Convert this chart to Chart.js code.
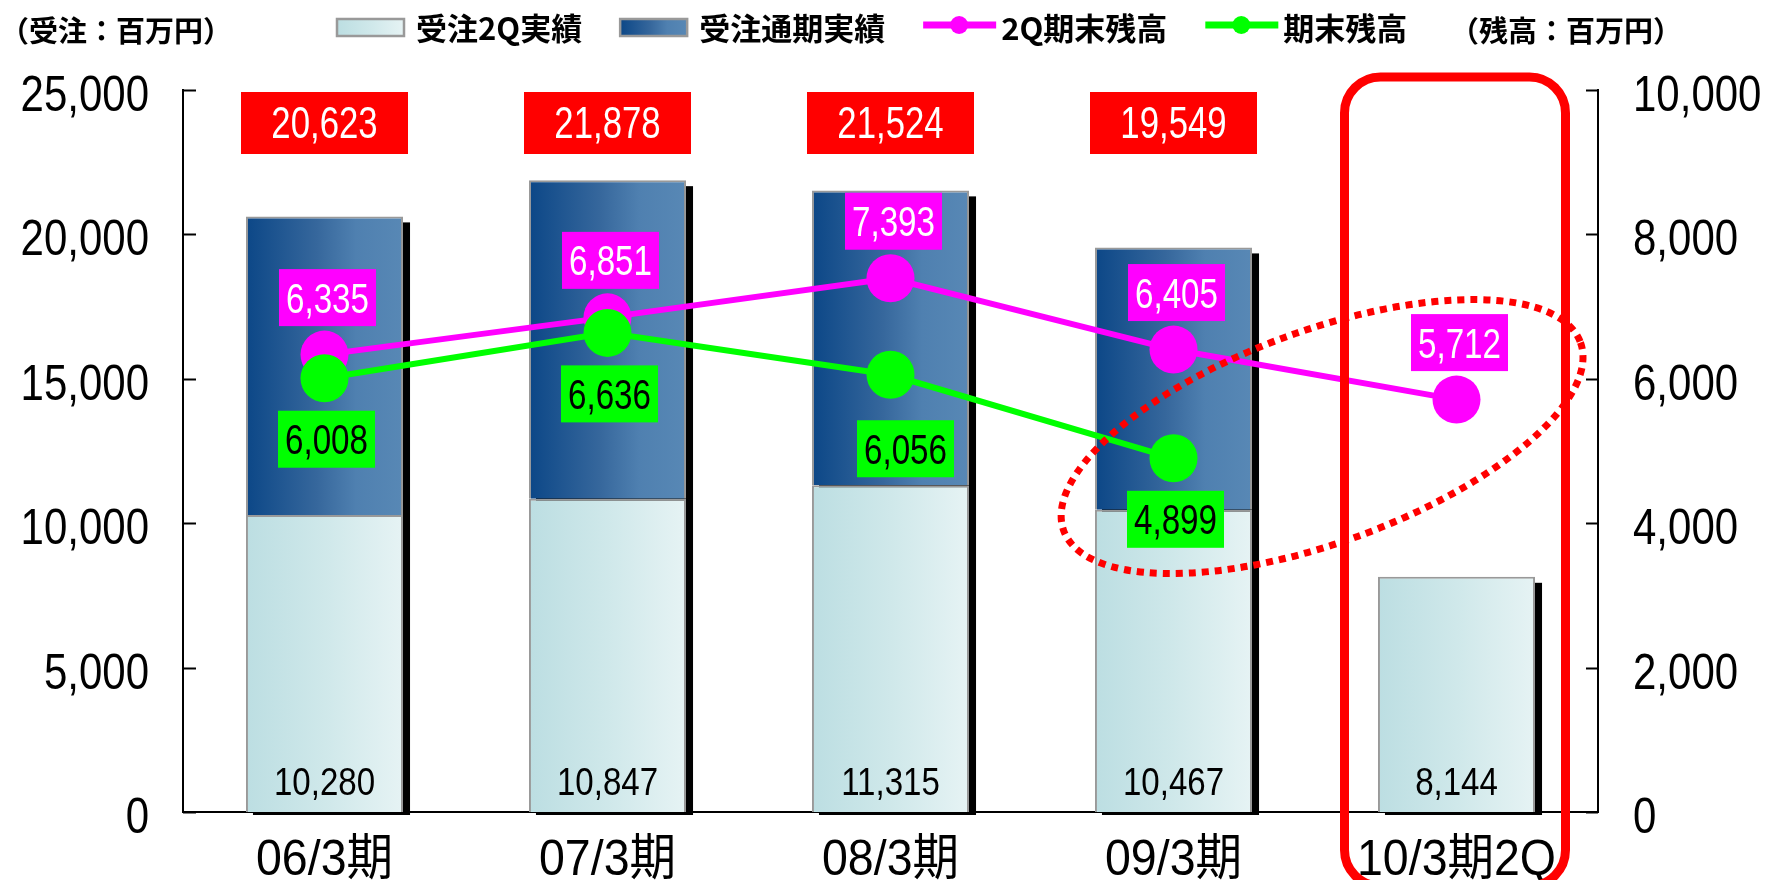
<!DOCTYPE html>
<html>
<head>
<meta charset="utf-8">
<script src="https://cdn.jsdelivr.net/npm/chart.js@4.4.1/dist/chart.umd.min.js"></script>
<style>
  html, body { margin: 0; padding: 0; background: #fff; overflow: hidden; }
  #wrap { width: 1767px; height: 880px; }
</style>
</head>
<body>
<div id="wrap"><canvas id="orders-chart"></canvas></div>
<script>
// periods and values (百万円)
let periods = ["06/3期", "07/3期", "08/3期", "09/3期", "10/3期2Q"];
let orders2Q = [10280, 10847, 11315, 10467, 8144];
let ordersFull = [20623, 21878, 21524, 19549, null];
let backlog2Q = [6335, 6851, 7393, 6405, 5712];
let backlogEnd = [6008, 6636, 6056, 4899, null];
let orderTicks = [0, 5000, 10000, 15000, 20000, 25000];
let backlogTicks = [0, 2000, 4000, 6000, 8000, 10000];

// upper stack segment = full year minus first half
let ordersRest = ordersFull.map((v, i) => (v == null ? null : v - orders2Q[i]));

const NUM = "'Liberation Sans', 'Noto Sans CJK JP', sans-serif";
const JP = "'Noto Sans CJK JP', sans-serif";
const BAR_PCT = 0.555;
const LIGHT_STOPS = [[0, "#bcdee2"], [0.5, "#cfe8ea"], [1, "#e6f3f4"]];
const DARK_STOPS = [[0, "#0c4787"], [0.45, "#36679c"], [0.7, "#4f80b0"], [1, "#5888b5"]];

let fmt = (v) => v.toLocaleString("en-US");

function hGradient(ctx, x0, x1, stops) {
  let g = ctx.createLinearGradient(x0, 0, x1, 0);
  stops.forEach((s) => g.addColorStop(s[0], s[1]));
  return g;
}

function barFill(c, stops) {
  let chart = c.chart;
  let xs = chart.scales.x;
  if (!chart.chartArea || !xs || c.dataIndex === undefined) return stops[0][1];
  let cx = xs.getPixelForValue(c.dataIndex);
  let half = ((xs.width / periods.length) * BAR_PCT) / 2;
  return hGradient(chart.ctx, cx - half, cx + half, stops);
}

// squeezed numerals, the figures are set in a tall narrow face
function narrowText(ctx, text, x, y, size, sx, align) {
  ctx.save();
  ctx.font = size + "px " + NUM;
  ctx.textAlign = align || "center";
  ctx.textBaseline = "alphabetic";
  ctx.translate(x, y);
  ctx.scale(sx, 1);
  ctx.fillText(text, 0, 0);
  ctx.restore();
}

function labelBox(ctx, cx, cy, w, h, fill, text, color, size) {
  ctx.fillStyle = fill;
  ctx.fillRect(cx - w / 2, cy - h / 2, w, h);
  ctx.fillStyle = color;
  narrowText(ctx, text, cx, cy + 15, size, 0.79);
}

//black drop shadow to the right of every bar stack, plus the axis labels
const barShadow = {
  id: "barShadow",
  beforeDatasetsDraw(chart) {
    let ctx = chart.ctx;
    let xs = chart.scales.x, ys = chart.scales.y, ys2 = chart.scales.y2;
    let base = ys.getPixelForValue(0);
    let lightMeta = chart.getDatasetMeta(0);
    let darkMeta = chart.getDatasetMeta(1);
    ctx.save();
    ctx.fillStyle = "#000";
    lightMeta.data.forEach((bar, i) => {
      let top = ordersFull[i] != null ? darkMeta.data[i] : bar;
      let p = top.getProps(["x", "y", "width"], true);
      ctx.fillRect(p.x - p.width / 2 + 7, p.y + 6, p.width, base - p.y - 3);
    });

    ys.ticks.forEach((t, i) => {
      narrowText(ctx, fmt(t.value), ys.right - 34, ys.getPixelForTick(i) + 21, 50, 0.84, "right");
    });
    ys2.ticks.forEach((t, i) => {
      narrowText(ctx, fmt(t.value), ys2.left + 35, ys2.getPixelForTick(i) + 21, 50, 0.84, "left");
    });
    xs.ticks.forEach((t, i) => {
      narrowText(ctx, periods[i], xs.getPixelForTick(i), xs.top + 63, 50, 0.93, "center");
    });
    ctx.restore();
  },
};

//value boxes, inward ticks, highlight frame, legend and unit captions
const decorations = {
  id: "decorations",
  afterDatasetsDraw(chart) {
    let ctx = chart.ctx;
    let xs = chart.scales.x, ys = chart.scales.y, ys2 = chart.scales.y2;
    let area = chart.chartArea;
    ctx.save();

    // small tick marks pointing into the plot
    ctx.strokeStyle = "#000";
    ctx.lineWidth = 2;
    ys.ticks.forEach((t, i) => {
      let py = Math.round(ys.getPixelForTick(i)) + 0.5;
      ctx.beginPath(); ctx.moveTo(area.left, py); ctx.lineTo(area.left + 13, py); ctx.stroke();
    });
    ys2.ticks.forEach((t, i) => {
      let py = Math.round(ys2.getPixelForTick(i)) + 0.5;
      ctx.beginPath(); ctx.moveTo(area.right, py); ctx.lineTo(area.right - 12, py); ctx.stroke();
    });

    // full year totals in red boxes
    ordersFull.forEach((v, i) => {
      if (v == null) return;
      labelBox(ctx, xs.getPixelForValue(i), area.top + 33, 167, 62, "#ff0000", fmt(v), "#fff", 44);
    });

    // first half orders at the foot of each bar
    ctx.fillStyle = "#000";
    orders2Q.forEach((v, i) => {
      narrowText(ctx, fmt(v), xs.getPixelForValue(i), area.bottom - 17, 38, 0.87);
    });

    // backlog labels
    let pinkMeta = chart.getDatasetMeta(2);
    let greenMeta = chart.getDatasetMeta(3);
    backlog2Q.forEach((v, i) => {
      let pt = pinkMeta.data[i];
      labelBox(ctx, pt.x + 3, pt.y - 57, 97, 57, "#ff00ff", fmt(v), "#fff", 42);
    });
    let nudge = { 2: [15, 13] };
    backlogEnd.forEach((v, i) => {
      if (v == null) return;
      let pt = greenMeta.data[i];
      let n = nudge[i] || [2, 0];
      labelBox(ctx, pt.x + n[0], pt.y + 61 + n[1], 97, 57, "#00ff00", fmt(v), "#000", 42);
    });

    // highlight frame round the latest period
    let cx = xs.getPixelForValue(periods.length - 1);
    let fx = cx - 112, fy = area.top - 13, fw = 221, fh = 809, r = 36;
    ctx.strokeStyle = "#ff0000";
    ctx.lineWidth = 9;
    ctx.beginPath();
    ctx.moveTo(fx + r, fy);
    ctx.arcTo(fx + fw, fy, fx + fw, fy + fh, r);
    ctx.arcTo(fx + fw, fy + fh, fx, fy + fh, r);
    ctx.arcTo(fx, fy + fh, fx, fy, r);
    ctx.arcTo(fx, fy, fx + fw, fy, r);
    ctx.closePath();
    ctx.stroke();

    // dotted ellipse round the backlog drop
    ctx.lineWidth = 7;
    ctx.setLineDash([7, 6]);
    ctx.beginPath();
    ctx.ellipse(xs.getPixelForValue(3.525), ys.getPixelForValue(13000), 275, 106, (-20 * Math.PI) / 180, 0, Math.PI * 2);
    ctx.stroke();
    ctx.setLineDash([]);
    ctx.restore();
  },
  afterDraw(chart) {
    let ctx = chart.ctx;
    ctx.save();
    ctx.textBaseline = "middle";
    ctx.textAlign = "left";
    ctx.fillStyle = "#000";
    ctx.font = "bold 29px " + JP;
    ctx.fillText("（受注：百万円）", 0, 31);
    ctx.fillText("（残高：百万円）", 1450, 31);

    // legend
    let cy = 27;
    let xPos = 337;
    ctx.font = "bold 31px " + JP;
    chart.data.datasets.forEach((ds) => {
      if (ds.type === "bar") {
        ctx.fillStyle = hGradient(ctx, xPos, xPos + 67, ds.legendStops);
        ctx.fillRect(xPos, cy - 8, 67, 17);
        ctx.strokeStyle = "#999";
        ctx.lineWidth = 2.5;
        ctx.strokeRect(xPos, cy - 8, 67, 17);
        xPos += 67 + 12;
      } else {
        ctx.strokeStyle = ds.borderColor;
        ctx.fillStyle = ds.borderColor;
        ctx.lineWidth = 7;
        ctx.beginPath();
        ctx.moveTo(xPos, cy - 2);
        ctx.lineTo(xPos + 73, cy - 2);
        ctx.stroke();
        ctx.beginPath();
        ctx.arc(xPos + 36, cy - 2, 9, 0, Math.PI * 2);
        ctx.fill();
        xPos += 73 + 5;
      }
      ctx.fillStyle = "#000";
      ctx.fillText(ds.label, xPos, cy + 1);
      xPos += ctx.measureText(ds.label).width + 38;
    });
    ctx.restore();
  },
};

let chart = new Chart(document.getElementById("orders-chart"), {
  type: "bar",
  data: {
    labels: periods,
    datasets: [
      {
        type: "bar",
        label: "受注2Q実績",
        data: orders2Q,
        yAxisID: "y",
        stack: "orders",
        order: 3,
        legendStops: LIGHT_STOPS,
        backgroundColor: (c) => barFill(c, LIGHT_STOPS),
        borderColor: "#999",
        borderWidth: 2,
        barPercentage: BAR_PCT,
        categoryPercentage: 1,
      },
      {
        type: "bar",
        label: "受注通期実績",
        data: ordersRest,
        yAxisID: "y",
        stack: "orders",
        order: 3,
        legendStops: DARK_STOPS,
        backgroundColor: (c) => barFill(c, DARK_STOPS),
        borderColor: "#999",
        borderWidth: 2,
        barPercentage: BAR_PCT,
        categoryPercentage: 1,
      },
      {
        type: "line",
        label: "2Q期末残高",
        data: backlog2Q,
        yAxisID: "y2",
        order: 2,
        borderColor: "#ff00ff",
        backgroundColor: "#ff00ff",
        borderWidth: 6,
        pointRadius: 24,
        pointBorderWidth: 0,
        tension: 0,
        clip: false,
      },
      {
        type: "line",
        label: "期末残高",
        data: backlogEnd,
        yAxisID: "y2",
        order: 1,
        borderColor: "#00ff00",
        backgroundColor: "#00ff00",
        borderWidth: 6,
        pointRadius: 24,
        pointBorderWidth: 0,
        tension: 0,
        clip: false,
      },
    ],
  },
  options: {
    responsive: true,
    maintainAspectRatio: false,
    animation: false,
    events: [],
    layout: { padding: { top: 90, left: 0, right: 0, bottom: 0 } },
    plugins: { legend: { display: false }, tooltip: { enabled: false } },
    scales: {
      x: {
        stacked: true,
        grid: { display: false },
        border: { display: true, color: "#000", width: 2 },
        ticks: { display: false },
        afterFit: (s) => { s.height = 68; },
      },
      y: {
        stacked: true,
        position: "left",
        min: orderTicks[0],
        max: orderTicks[orderTicks.length - 1],
        grid: { display: false },
        border: { display: true, color: "#000", width: 2 },
        ticks: { display: false, stepSize: orderTicks[1] - orderTicks[0] },
        afterFit: (s) => { s.width = 183; },
      },
      y2: {
        position: "right",
        min: backlogTicks[0],
        max: backlogTicks[backlogTicks.length - 1],
        grid: { display: false },
        border: { display: true, color: "#000", width: 2 },
        ticks: { display: false, stepSize: backlogTicks[1] - backlogTicks[0] },
        afterFit: (s) => { s.width = 169; },
      },
    },
  },
  plugins: [barShadow, decorations],
});
</script>
</body>
</html>
